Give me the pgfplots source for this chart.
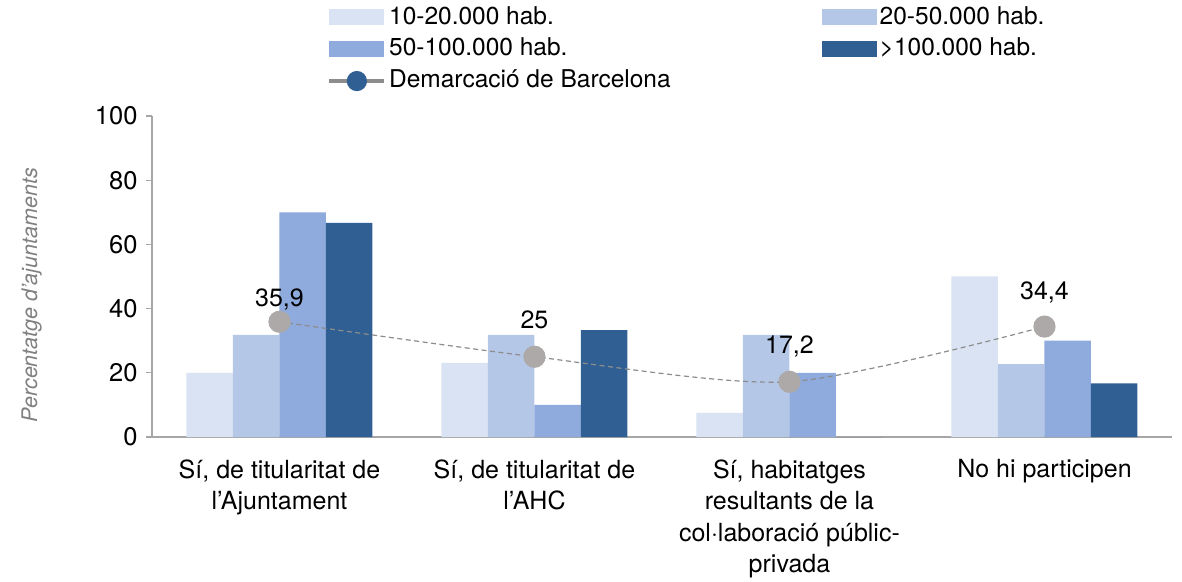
\documentclass[border=0pt]{standalone}
\usepackage{pgfplots}
\pgfplotsset{compat=1.18}
\usepackage{fontspec}
\setmainfont{TeX Gyre Heros}
\definecolor{c1}{HTML}{DAE3F3}
\definecolor{c2}{HTML}{B4C7E7}
\definecolor{c3}{HTML}{8FAADC}
\definecolor{c4}{HTML}{305F94}
\definecolor{dotgray}{HTML}{ADA9A8}
\definecolor{linegray}{HTML}{8C8C8C}
\definecolor{axgray}{HTML}{A6A6A6}
\begin{document}
\begin{tikzpicture}[x=1pt,y=1pt]
\path (0,0) rectangle (1182,580);
\begin{axis}[
  at={(152pt,143pt)}, anchor=south west,
  scale only axis, width=1020pt, height=321pt,
  xmin=-0.5, xmax=3.5, ymin=0, ymax=100,
  axis x line*=bottom, axis y line*=left,
  axis line style={draw=axgray, line width=1.2pt},
  ytick={0,20,40,60,80,100},
  xtick={0,1,2,3},
  xticklabels={{Sí, de titularitat de\\l’Ajuntament},{Sí, de titularitat de\\l'AHC},{Sí, habitatges\\resultants de la\\col·laboració públic-\\privada},{No hi participen}},
  x tick style={draw=none},
  y tick style={draw=axgray, line width=1.2pt},
  tick align=outside, major tick length=6pt,
  /pgf/number format/assume math mode=true,
  yticklabel style={font=\fontsize{25.5}{25.5}\selectfont, xshift=-5pt},
  xticklabel style={font=\fontsize{25}{31.5}\selectfont, align=center, anchor=north, yshift=-13pt},
  ylabel={Percentatge d’ajuntaments},
  ylabel style={at={(axis description cs:-0.118,0.442)}, anchor=center, font=\itshape\fontsize{21.5}{22}\selectfont, text=gray},
  legend style={at={(axis description cs:0.172,1.34)}, anchor=north west, draw=none, fill=none, inner sep=0pt,
    font=\fontsize{24.5}{28}\selectfont, row sep=9.5pt,
    nodes={inner xsep=3pt, inner ysep=0pt, text height=17pt, text depth=5pt},
    /tikz/column 2/.style={column sep=148pt}},
  legend columns=2, legend cell align=left,
  clip=false,
]
\pgfplotsset{barleg/.style={legend image code/.code={\path[##1,draw=none] (0pt,-7pt) rectangle (55pt,9pt);}}}
\addplot[ybar, bar width=46.5pt, bar shift=-69.75pt, fill=c1, draw=none, barleg] coordinates {(0,20) (1,23.1) (2,7.5) (3,50)};
\addlegendentry{10-20.000 hab.}
\addplot[ybar, bar width=46.5pt, bar shift=-23.25pt, fill=c2, draw=none, barleg] coordinates {(0,31.8) (1,31.8) (2,31.8) (3,22.7)};
\addlegendentry{20-50.000 hab.}
\addplot[ybar, bar width=46.5pt, bar shift=23.25pt, fill=c3, draw=none, barleg] coordinates {(0,70) (1,10) (2,20) (3,30)};
\addlegendentry{50-100.000 hab.}
\addplot[ybar, bar width=46.5pt, bar shift=69.75pt, fill=c4, draw=none, barleg] coordinates {(0,66.7) (1,33.3) (2,0) (3,16.7)};
\addlegendentry{>100.000 hab.}
\addplot[smooth, tension=0.45, color=linegray, line width=1.2pt, dash pattern=on 5pt off 3.5pt,
  mark=*, mark size=10.5pt, mark options={solid, fill=dotgray, draw=dotgray},
  nodes near coords, point meta=explicit symbolic,
  visualization depends on={\thisrow{dy} \as \dy},
  nodes near coords style={anchor=base, yshift=\dy pt, font=\fontsize{25}{25}\selectfont, text=black},
  legend image code/.code={\draw[solid, linegray, line width=3.5pt] (0pt,0pt) -- (55pt,0pt); \fill[solid, c4] (27.5pt,0pt) circle (9.5pt);}]
  table[x=x, y=y, meta=lbl] {
x y lbl dy
0 35.9 35,9 15
1 25 25 28
2 17.2 17,2 28
3 34.4 34,4 27
};
\addlegendentry{Demarcació de Barcelona}
\end{axis}
\end{tikzpicture}
\end{document}
